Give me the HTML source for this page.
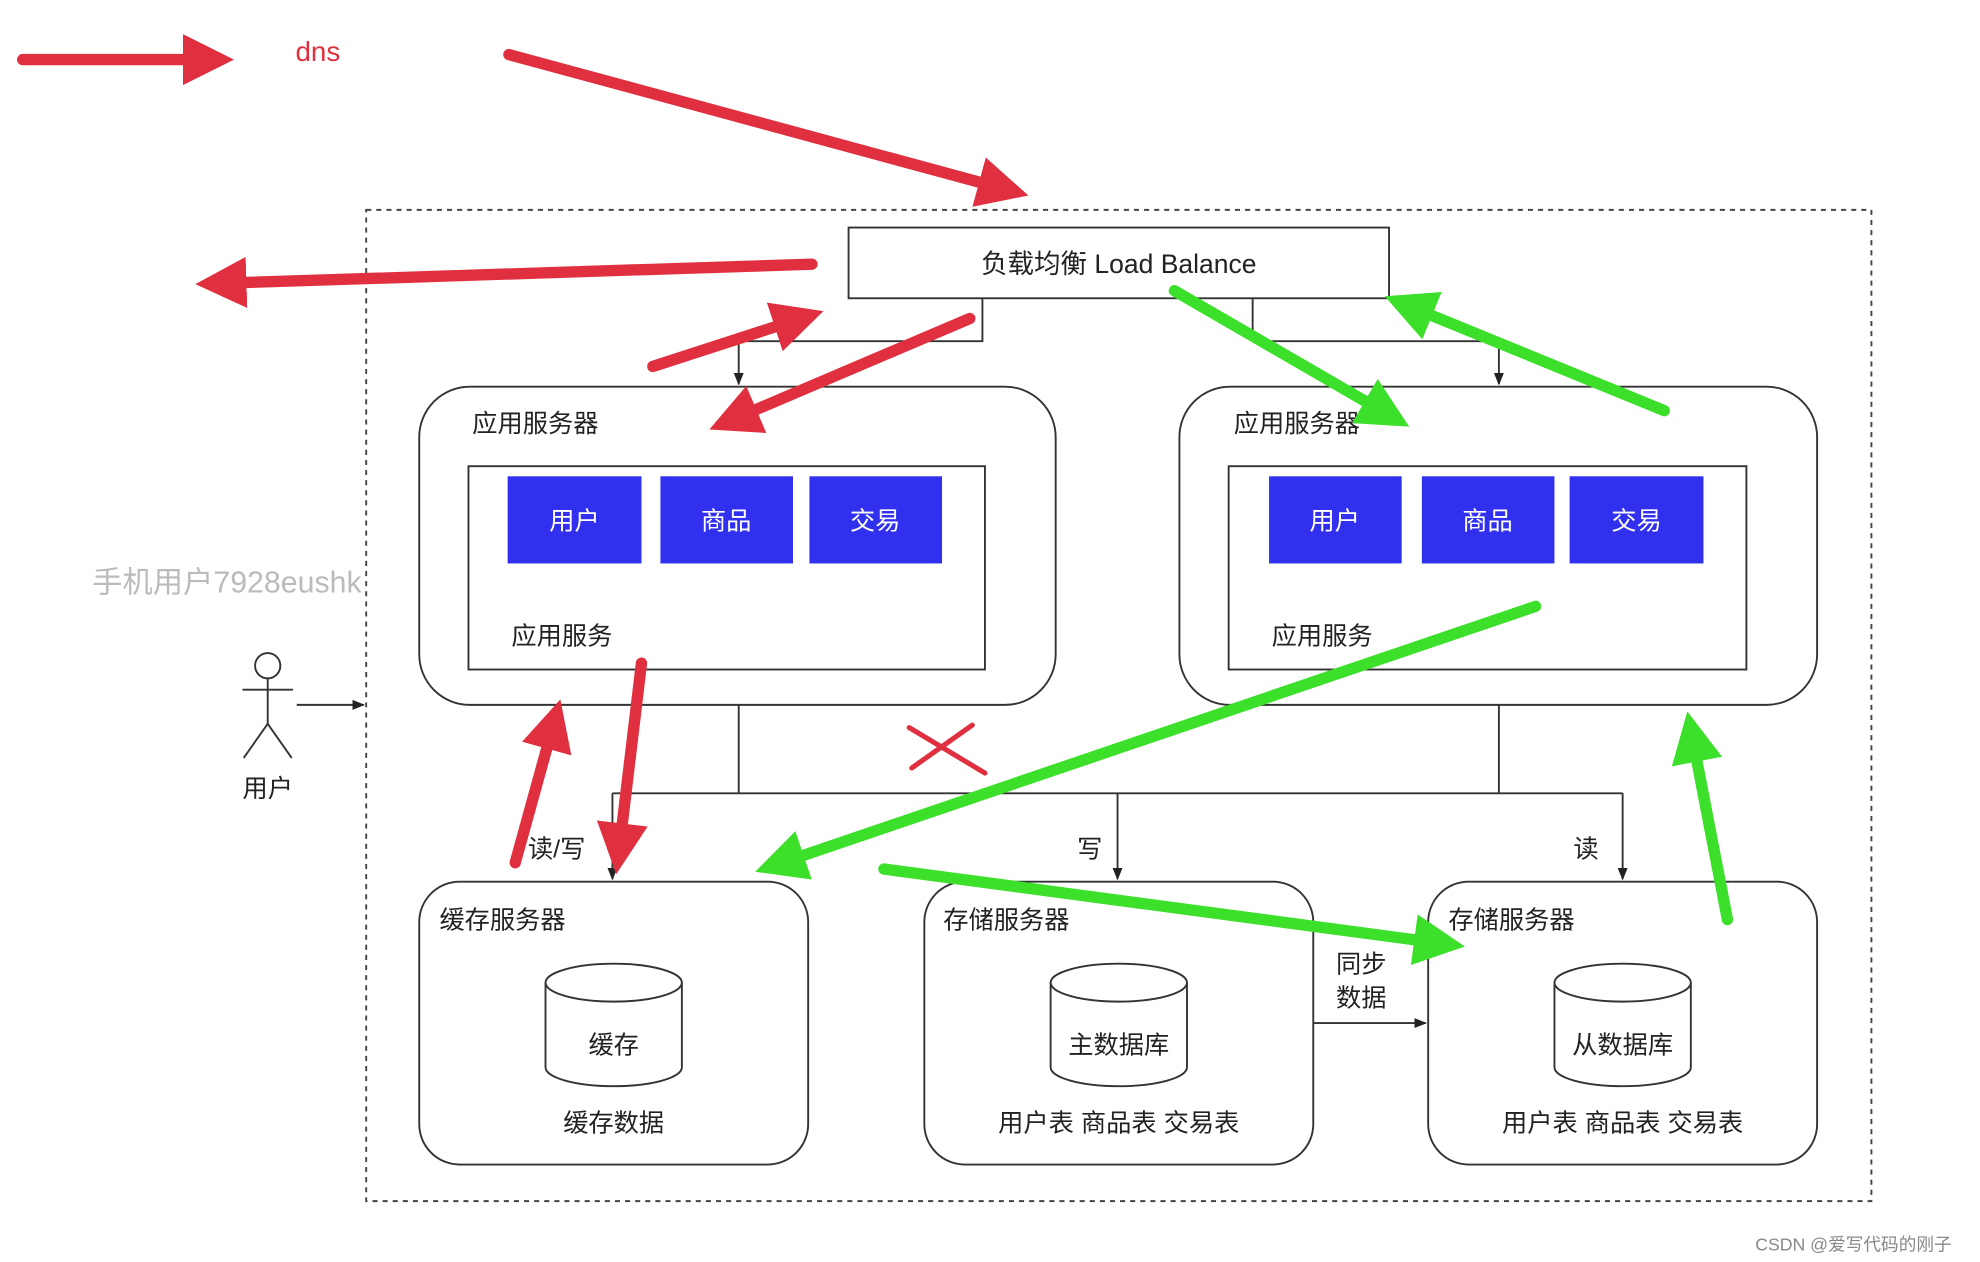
<!DOCTYPE html>
<html><head><meta charset="utf-8"><style>
html,body{margin:0;padding:0;background:#fff;}
svg{display:block;}
text{font-family:"Liberation Sans","Noto Sans CJK SC",sans-serif;}
</style></head><body>
<svg width="1980" height="1262" viewBox="0 0 1568 999" xmlns="http://www.w3.org/2000/svg">
<defs>
<marker id="ah" viewBox="0 0 4 4" refX="1.5" refY="2" markerWidth="4.5" markerHeight="4.5" orient="auto" markerUnits="strokeWidth"><path d="M0,0 L4,2 L0,4 z" fill="context-stroke"/></marker>
<marker id="r" viewBox="0 0 4 4" refX="1.5" refY="2" markerWidth="4.5" markerHeight="4.5" orient="auto" markerUnits="strokeWidth"><path d="M0,0 L4,2 L0,4 z" fill="#e03040"/></marker>
<marker id="g" viewBox="0 0 4 4" refX="1.5" refY="2" markerWidth="4.5" markerHeight="4.5" orient="auto" markerUnits="strokeWidth"><path d="M0,0 L4,2 L0,4 z" fill="#3ce02a"/></marker>
<marker id="k" viewBox="0 0 10 10" refX="9" refY="5" markerWidth="10" markerHeight="10" orient="auto" markerUnits="userSpaceOnUse"><path d="M0,1 L10,5 L0,9 z" fill="#222"/></marker>
</defs>
<rect x="290" y="166" width="1192" height="785" fill="none" stroke="#444" stroke-width="1.5" stroke-dasharray="4,4"/>
<!-- LB -->
<rect x="672" y="180" width="428" height="56" fill="#fff" stroke="#333" stroke-width="1.5"/>
<text x="886" y="216" font-size="21" text-anchor="middle" fill="#222">负载均衡 Load Balance</text>
<g stroke="#333" stroke-width="1.5" fill="none">
<polyline points="778,236 778,270 585,270 585,304" marker-end="url(#k)"/>
<polyline points="992,236 992,270 1187,270 1187,304" marker-end="url(#k)"/>
<polyline points="585,558 585,628"/>
<polyline points="1187,558 1187,628"/>
<polyline points="485,628 1285,628"/>
<polyline points="485,628 485,696" marker-end="url(#k)"/>
<polyline points="885,628 885,696" marker-end="url(#k)"/>
<polyline points="1285,628 1285,696" marker-end="url(#k)"/>
<polyline points="1040,810 1129,810" marker-end="url(#k)"/>
<polyline points="235,558 288,558" marker-end="url(#k)"/>
</g>
<!-- app servers -->
<g stroke="#333" stroke-width="1.5" fill="#fff">
<rect x="332" y="306" width="504" height="252" rx="40"/>
<rect x="371" y="369" width="409" height="161"/>
<rect x="934" y="306" width="505" height="252" rx="40"/>
<rect x="973" y="369" width="410" height="161"/>
<rect x="332" y="698" width="308" height="224" rx="32"/>
<rect x="732" y="698" width="308" height="224" rx="32"/>
<rect x="1131" y="698" width="308" height="224" rx="32"/>
</g>
<g fill="#3030ee">
<rect x="402" y="377" width="106" height="69"/><rect x="523" y="377" width="105" height="69"/><rect x="641" y="377" width="105" height="69"/>
<rect x="1005" y="377" width="105" height="69"/><rect x="1126" y="377" width="105" height="69"/><rect x="1243" y="377" width="106" height="69"/>
</g>
<g font-size="20" fill="#fff" text-anchor="middle">
<text x="455" y="419">用户</text><text x="575" y="419">商品</text><text x="693" y="419">交易</text>
<text x="1057" y="419">用户</text><text x="1178" y="419">商品</text><text x="1296" y="419">交易</text>
</g>
<g font-size="20" fill="#222">
<text x="374" y="342">应用服务器</text><text x="405" y="510">应用服务</text>
<text x="977" y="342">应用服务器</text><text x="1007" y="510">应用服务</text>
<text x="348" y="735">缓存服务器</text><text x="747" y="735">存储服务器</text><text x="1147" y="735">存储服务器</text>
<text x="418" y="679">读/写</text><text x="853" y="679">写</text><text x="1246" y="679">读</text>
<text x="1058" y="770">同步</text><text x="1058" y="797">数据</text>
<text x="212" y="631" text-anchor="middle">用户</text>
<text x="486" y="896" text-anchor="middle">缓存数据</text>
<text x="886" y="896" text-anchor="middle">用户表 商品表 交易表</text>
<text x="1285" y="896" text-anchor="middle">用户表 商品表 交易表</text>
</g>
<!-- cylinders -->
<g stroke="#333" stroke-width="1.5" fill="#fff">
<path d="M432,778 L432,845 A54,15 0 0 0 540,845 L540,778"/><ellipse cx="486" cy="778" rx="54" ry="15"/>
<path d="M832,778 L832,845 A54,15 0 0 0 940,845 L940,778"/><ellipse cx="886" cy="778" rx="54" ry="15"/>
<path d="M1231,778 L1231,845 A54,15 0 0 0 1339,845 L1339,778"/><ellipse cx="1285" cy="778" rx="54" ry="15"/>
</g>
<g font-size="20" fill="#222" text-anchor="middle">
<text x="486" y="834">缓存</text><text x="886" y="834">主数据库</text><text x="1285" y="834">从数据库</text>
</g>
<!-- stick figure -->
<g stroke="#333" stroke-width="1.5" fill="none">
<circle cx="212" cy="527" r="10"/>
<line x1="212" y1="537" x2="212" y2="573"/><line x1="192" y1="546" x2="232" y2="546"/>
<line x1="212" y1="573" x2="193" y2="600"/><line x1="212" y1="573" x2="231" y2="600"/>
</g>
<text x="73" y="469" font-size="24" fill="#bbb">手机用户7928eushk</text>
<text x="234" y="48" font-size="22" fill="#e03040">dns</text>
<text x="1390" y="990" font-size="14" fill="#888">CSDN @爱写代码的刚子</text>
<!-- red arrows -->
<g stroke="#e03040" stroke-width="9" fill="none" stroke-linecap="round">
<line x1="18" y1="47" x2="160" y2="47" marker-end="url(#r)"/>
<line x1="403" y1="43" x2="790" y2="148" marker-end="url(#r)"/>
<line x1="643" y1="209" x2="180" y2="224" marker-end="url(#r)"/>
<line x1="517" y1="290" x2="628" y2="254" marker-end="url(#r)"/>
<line x1="768" y1="252" x2="585" y2="330" marker-end="url(#r)"/>
<line x1="408" y1="683" x2="437" y2="578" marker-end="url(#r)"/>
<line x1="508" y1="525" x2="491" y2="667" marker-end="url(#r)"/>
<line x1="720" y1="576" x2="780" y2="612" stroke-width="4"/>
<line x1="722" y1="608" x2="770" y2="574" stroke-width="4"/>
</g>
<!-- green arrows -->
<g stroke="#3ce02a" stroke-width="9" fill="none" stroke-linecap="round">
<line x1="930" y1="230" x2="1094" y2="325" marker-end="url(#g)"/>
<line x1="1318" y1="325" x2="1120" y2="244" marker-end="url(#g)"/>
<line x1="1216" y1="480" x2="622" y2="682" marker-end="url(#g)"/>
<line x1="700" y1="688" x2="1135" y2="746" marker-end="url(#g)"/>
<line x1="1368" y1="728" x2="1341" y2="588" marker-end="url(#g)"/>
</g>
</svg>
</body></html>
